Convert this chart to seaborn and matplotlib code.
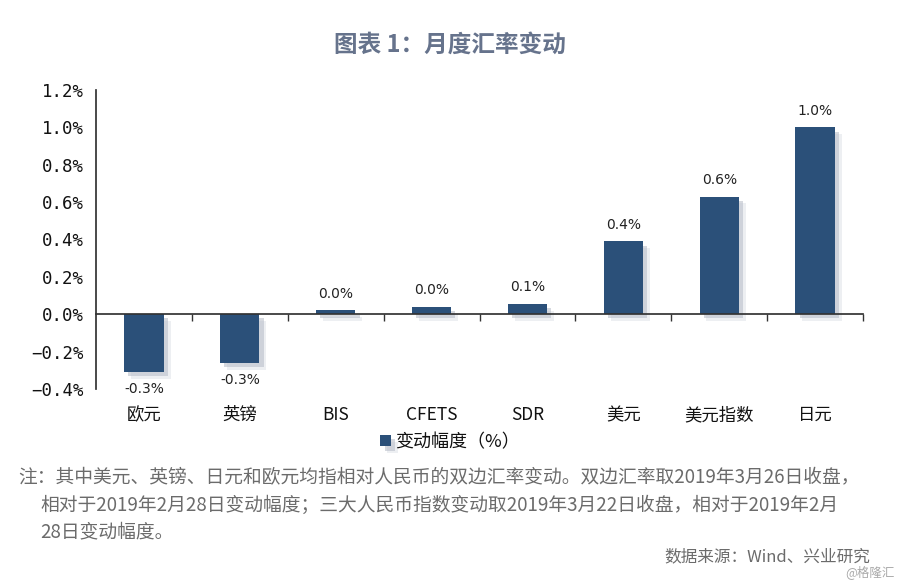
import matplotlib
matplotlib.use("Agg")
import matplotlib.pyplot as plt
import matplotlib.patheffects as pe
from matplotlib.ticker import FuncFormatter, FixedLocator
import seaborn as sns
import pandas as pd

# =============================================================================
# DATA
# =============================================================================
CATEGORIES = ['欧元', '英镑', 'BIS', 'CFETS', 'SDR', '美元', '美元指数', '日元']
CHANGES = [-0.31, -0.26, 0.02, 0.04, 0.055, 0.39, 0.63, 1.0]
SERIES_NAME = '变动幅度（%）'
TITLE = '图表 1：月度汇率变动'
NOTE_LINES = [
    '注：其中美元、英镑、日元和欧元均指相对人民币的双边汇率变动。双边汇率取2019年3月26日收盘，',
    '相对于2019年2月28日变动幅度；三大人民币指数变动取2019年3月22日收盘，相对于2019年2月',
    '28日变动幅度。',
]
SOURCE = '数据来源：Wind、兴业研究'
WATERMARK = '@格隆汇'

BAR_COLOR = '#2b5079'
TEXT_GRAY = '#6b6b6b'
TITLE_COLOR = '#66738c'

# =============================================================================
# PLOT
# =============================================================================
sns.set_theme(style="white")
plt.rcParams['font.family'] = ['Noto Sans CJK SC', 'DejaVu Sans']
plt.rcParams['axes.unicode_minus'] = True

df = pd.DataFrame({'Category': CATEGORIES, 'Change': CHANGES})

fig = plt.figure(figsize=(9, 5.83), dpi=100)
ax = fig.add_axes([0.1067, 0.3328, 0.8522, 0.5128])

sns.barplot(data=df, x='Category', y='Change', color=BAR_COLOR, saturation=1,
            width=0.41, linewidth=0, ax=ax, label=SERIES_NAME)

# soft drop shadow like the original chart
for p in ax.patches:
    p.set_path_effects([pe.SimplePatchShadow(offset=(3, -3), shadow_rgbFace='#8a94a6', alpha=0.35),
                        pe.SimplePatchShadow(offset=(5, -5), shadow_rgbFace='#b9c0cc', alpha=0.25),
                        pe.Normal()])

ax.bar_label(ax.containers[0], labels=[f'{v:.1f}%' for v in CHANGES],
             padding=7, fontsize=10, color='#222222', family='DejaVu Sans')

ax.set_xlim(-0.5, len(CATEGORIES) - 0.5)
ax.set_ylim(-0.4, 1.2)
ax.set_yticks([-0.4, -0.2, 0.0, 0.2, 0.4, 0.6, 0.8, 1.0, 1.2])
ax.yaxis.set_major_formatter(FuncFormatter(lambda v, _: f'{v:.1f}%'.replace('-', '−')))
ax.tick_params(axis='y', which='major', direction='out', length=5, width=1,
               color='#333333', labelsize=12.5, labelcolor='#111111', pad=4)
for lbl in ax.get_yticklabels():
    lbl.set_family('DejaVu Sans Mono')

# x axis: spine at zero, boundary ticks, labels at the bottom
ax.spines['bottom'].set_position(('data', 0))
ax.spines['bottom'].set_color('#333333')
ax.spines['left'].set_color('#333333')
ax.spines['top'].set_visible(False)
ax.spines['right'].set_visible(False)
ax.xaxis.set_minor_locator(FixedLocator([i + 0.5 for i in range(len(CATEGORIES))]))
ax.tick_params(axis='x', which='minor', direction='out', length=5, width=1,
               color='#333333', bottom=True)
ax.tick_params(axis='x', which='major', length=0, pad=66, labelsize=12.5,
               labelcolor='#111111')
ax.set_xlabel('')
ax.set_ylabel('')
ax.grid(False)

leg = ax.legend(loc='center', bbox_to_anchor=(0.5, 1 - 442 / 583),
                bbox_transform=fig.transFigure, frameon=False, fontsize=13,
                handlelength=0.6, handleheight=0.6, handletextpad=0.2)
for t in leg.get_texts():
    t.set_color('#111111')

fig.text(0.5, 1 - 45 / 583, TITLE, ha='center', va='center', fontsize=17,
         color=TITLE_COLOR, fontweight='bold')

fig.text(18 / 900, 1 - 478 / 583, NOTE_LINES[0], ha='left', va='center',
         fontsize=13.5, color=TEXT_GRAY)
fig.text(40 / 900, 1 - 505 / 583, NOTE_LINES[1], ha='left', va='center',
         fontsize=13.5, color=TEXT_GRAY)
fig.text(40 / 900, 1 - 532 / 583, NOTE_LINES[2], ha='left', va='center',
         fontsize=13.5, color=TEXT_GRAY)
fig.text(870 / 900, 1 - 557 / 583, SOURCE, ha='right', va='center',
         fontsize=12, color=TEXT_GRAY)
fig.text(895 / 900, 1 - 572 / 583, WATERMARK, ha='right', va='center',
         fontsize=9, color='#aaaaaa')

fig.savefig('out.png', dpi=100)
plt.close(fig)
